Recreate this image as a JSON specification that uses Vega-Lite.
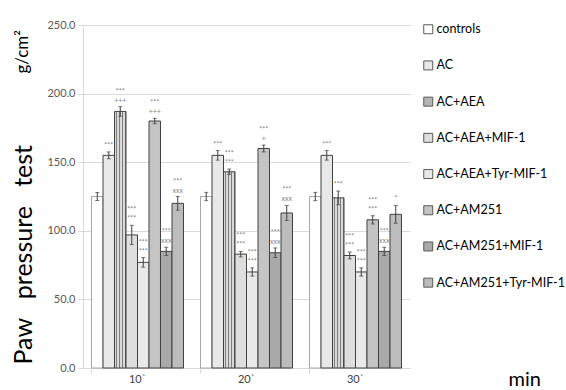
{
  "$schema": "https://vega.github.io/schema/vega-lite/v6.json",
  "width": 327,
  "height": 343,
  "autosize": {"type": "none"},
  "padding": {"left": 83, "top": 25, "right": 156, "bottom": 22},
  "background": "white",
  "config": {"view": {"stroke": null}, "font": "Lato"},
  "title": {"text": "g/cm²", "orient": "left", "anchor": "end", "fontSize": 17, "font": "Lato", "fontWeight": "normal", "color": "#000000", "offset": -21, "dx": -11},
  "data": {"values": [
    {"t": "10`", "series": "controls", "v": 125, "lo": 122, "hi": 128, "s1": "", "s2": ""},
    {"t": "10`", "series": "AC", "v": 155, "lo": 152.5, "hi": 157.5, "s1": "", "s2": "***"},
    {"t": "10`", "series": "AC+AEA", "v": 187, "lo": 183.5, "hi": 190.5, "s1": "***", "s2": "+++"},
    {"t": "10`", "series": "AC+AEA+MIF-1", "v": 97, "lo": 90, "hi": 104, "s1": "***", "s2": "***"},
    {"t": "10`", "series": "AC+AEA+Tyr-MIF-1", "v": 77, "lo": 73.5, "hi": 80.5, "s1": "***", "s2": "***"},
    {"t": "10`", "series": "AC+AM251", "v": 180, "lo": 178, "hi": 182, "s1": "***", "s2": "+++"},
    {"t": "10`", "series": "AC+AM251+MIF-1", "v": 85, "lo": 82, "hi": 88, "s1": "***", "s2": "xxx"},
    {"t": "10`", "series": "AC+AM251+Tyr-MIF-1", "v": 120, "lo": 115, "hi": 125, "s1": "***", "s2": "xxx"},
    {"t": "20`", "series": "controls", "v": 125, "lo": 122, "hi": 128, "s1": "", "s2": ""},
    {"t": "20`", "series": "AC", "v": 155, "lo": 151.5, "hi": 158.5, "s1": "", "s2": "***"},
    {"t": "20`", "series": "AC+AEA", "v": 143, "lo": 141, "hi": 145, "s1": "***", "s2": "***"},
    {"t": "20`", "series": "AC+AEA+MIF-1", "v": 83, "lo": 81, "hi": 85, "s1": "***", "s2": "***"},
    {"t": "20`", "series": "AC+AEA+Tyr-MIF-1", "v": 70, "lo": 67, "hi": 73, "s1": "***", "s2": "***"},
    {"t": "20`", "series": "AC+AM251", "v": 160, "lo": 157.5, "hi": 162.5, "s1": "***", "s2": "+"},
    {"t": "20`", "series": "AC+AM251+MIF-1", "v": 84, "lo": 80.5, "hi": 87.5, "s1": "***", "s2": "xxx"},
    {"t": "20`", "series": "AC+AM251+Tyr-MIF-1", "v": 113, "lo": 107.5, "hi": 118.5, "s1": "***", "s2": "xxx"},
    {"t": "30`", "series": "controls", "v": 125, "lo": 122, "hi": 128, "s1": "", "s2": ""},
    {"t": "30`", "series": "AC", "v": 155, "lo": 151.5, "hi": 158.5, "s1": "", "s2": "***"},
    {"t": "30`", "series": "AC+AEA", "v": 124, "lo": 119, "hi": 129, "s1": "", "s2": "***"},
    {"t": "30`", "series": "AC+AEA+MIF-1", "v": 82, "lo": 79.5, "hi": 84.5, "s1": "***", "s2": "***"},
    {"t": "30`", "series": "AC+AEA+Tyr-MIF-1", "v": 70, "lo": 67, "hi": 73, "s1": "***", "s2": "***"},
    {"t": "30`", "series": "AC+AM251", "v": 108, "lo": 105, "hi": 111, "s1": "***", "s2": "***"},
    {"t": "30`", "series": "AC+AM251+MIF-1", "v": 85, "lo": 82, "hi": 88, "s1": "***", "s2": "xxx"},
    {"t": "30`", "series": "AC+AM251+Tyr-MIF-1", "v": 112, "lo": 105.5, "hi": 118.5, "s1": "", "s2": "*"}
  ]},
  "encoding": {
    "x": {"field": "t", "type": "nominal", "scale": {"paddingInner": 0.156, "paddingOuter": 0.078}},
    "xOffset": {"field": "series", "type": "nominal", "sort": ["controls", "AC", "AC+AEA", "AC+AEA+MIF-1", "AC+AEA+Tyr-MIF-1", "AC+AM251", "AC+AM251+MIF-1", "AC+AM251+Tyr-MIF-1"], "scale": {"paddingInner": 0, "paddingOuter": 0}}
  },
  "resolve": {"axis": {"x": "independent"}},
  "layer": [
    {
      "mark": {"type": "bar", "strokeWidth": 1},
      "encoding": {
        "x": {"field": "t", "type": "nominal", "axis": {"orient": "bottom", "title": "min", "titleFontSize": 20, "titleFontWeight": "normal", "titleFont": "Lato", "titleColor": "#000000", "titleX": 425, "titleY": 17, "titleAlign": "left", "titleBaseline": "alphabetic", "labelAngle": 0, "labelFontSize": 11, "labelColor": "#404040", "labelPadding": 5, "ticks": false, "domainColor": "#d9d9d9"}},
        "y": {"field": "v", "type": "quantitative", "scale": {"domain": [0, 250], "nice": false}, "axis": {"values": [0, 50, 100, 150, 200, 250], "format": ".1f", "gridColor": "#d9d9d9", "domainColor": "#d9d9d9", "tickColor": "#d9d9d9", "tickSize": 5, "labelPadding": 3, "labelFontSize": 11, "labelColor": "#595959", "title": "Paw\u00a0\u00a0 pressure\u00a0\u00a0 test", "titleFontSize": 25, "titleFontWeight": "normal", "titleColor": "#000000", "titleAngle": -90, "titleAlign": "left", "titleBaseline": "middle", "titleX": -60, "titleY": 339}},
        "fill": {
          "condition": {"test": "datum.series === 'AC+AEA'", "value": {"gradient": "linear", "x1": 0, "y1": 0, "x2": 1, "y2": 0, "stops": [
              {"offset": 0, "color": "#d9d9d9"}, {"offset": 0.12, "color": "#d9d9d9"}, {"offset": 0.12, "color": "#7f7f7f"}, {"offset": 0.22, "color": "#7f7f7f"},
              {"offset": 0.22, "color": "#d9d9d9"}, {"offset": 0.37, "color": "#d9d9d9"}, {"offset": 0.37, "color": "#7f7f7f"}, {"offset": 0.47, "color": "#7f7f7f"},
              {"offset": 0.47, "color": "#d9d9d9"}, {"offset": 0.62, "color": "#d9d9d9"}, {"offset": 0.62, "color": "#7f7f7f"}, {"offset": 0.72, "color": "#7f7f7f"},
              {"offset": 0.72, "color": "#d9d9d9"}, {"offset": 0.87, "color": "#d9d9d9"}, {"offset": 0.87, "color": "#7f7f7f"}, {"offset": 0.97, "color": "#7f7f7f"},
              {"offset": 0.97, "color": "#d9d9d9"}, {"offset": 1, "color": "#d9d9d9"}
            ]}},
          "field": "series", "type": "nominal", "sort": ["controls", "AC", "AC+AEA", "AC+AEA+MIF-1", "AC+AEA+Tyr-MIF-1", "AC+AM251", "AC+AM251+MIF-1", "AC+AM251+Tyr-MIF-1"],
          "scale": {"range": ["#ffffff", "#e8e8e8", "#b5b5b5", "#dedede", "#e9e9e9", "#c4c4c4", "#a9a9a9", "#bcbcbc"]},
          "legend": {"title": null, "orient": "none", "legendX": 339, "legendY": -2, "symbolType": "square", "symbolSize": 81, "symbolStrokeColor": "#595959", "symbolStrokeWidth": 1, "labelFontSize": 12.5, "labelColor": "#000000", "labelFont": "Lato", "rowPadding": 22.2, "labelOffset": 2}},
        "stroke": {"condition": {"test": "datum.series === 'controls'", "value": "#a6a6a6"}, "value": "#404040"}
      }
    },
    {
      "mark": {"type": "bar", "opacity": 0},
      "encoding": {
        "x": {"field": "t", "type": "nominal", "axis": {"orient": "bottom", "labels": false, "ticks": true, "tickSize": 5, "tickColor": "#d9d9d9", "domain": false, "bandPosition": 0, "title": null, "grid": false}},
        "y": {"field": "v", "type": "quantitative"}
      }
    },
    {
      "mark": {"type": "rule", "color": "#404040", "strokeWidth": 1},
      "encoding": {
        "x": {"field": "t", "type": "nominal", "axis": null},
        "y": {"field": "lo", "type": "quantitative"},
        "y2": {"field": "hi"}
      }
    },
    {
      "mark": {"type": "tick", "color": "#404040", "size": 4, "thickness": 1},
      "encoding": {
        "x": {"field": "t", "type": "nominal", "axis": null},
        "y": {"field": "lo", "type": "quantitative"}
      }
    },
    {
      "mark": {"type": "tick", "color": "#404040", "size": 4, "thickness": 1},
      "encoding": {
        "x": {"field": "t", "type": "nominal", "axis": null},
        "y": {"field": "hi", "type": "quantitative"}
      }
    },
    {
      "mark": {"type": "text", "fontSize": 7, "color": "#7f7f7f", "baseline": "bottom", "dy": -3},
      "encoding": {
        "x": {"field": "t", "type": "nominal", "axis": null},
        "y": {"field": "hi", "type": "quantitative"},
        "text": {"field": "s2"}
      }
    },
    {
      "mark": {"type": "text", "fontSize": 7, "color": "#7f7f7f", "baseline": "bottom", "dy": -12},
      "encoding": {
        "x": {"field": "t", "type": "nominal", "axis": null},
        "y": {"field": "hi", "type": "quantitative"},
        "text": {"field": "s1"}
      }
    }
  ]
}
